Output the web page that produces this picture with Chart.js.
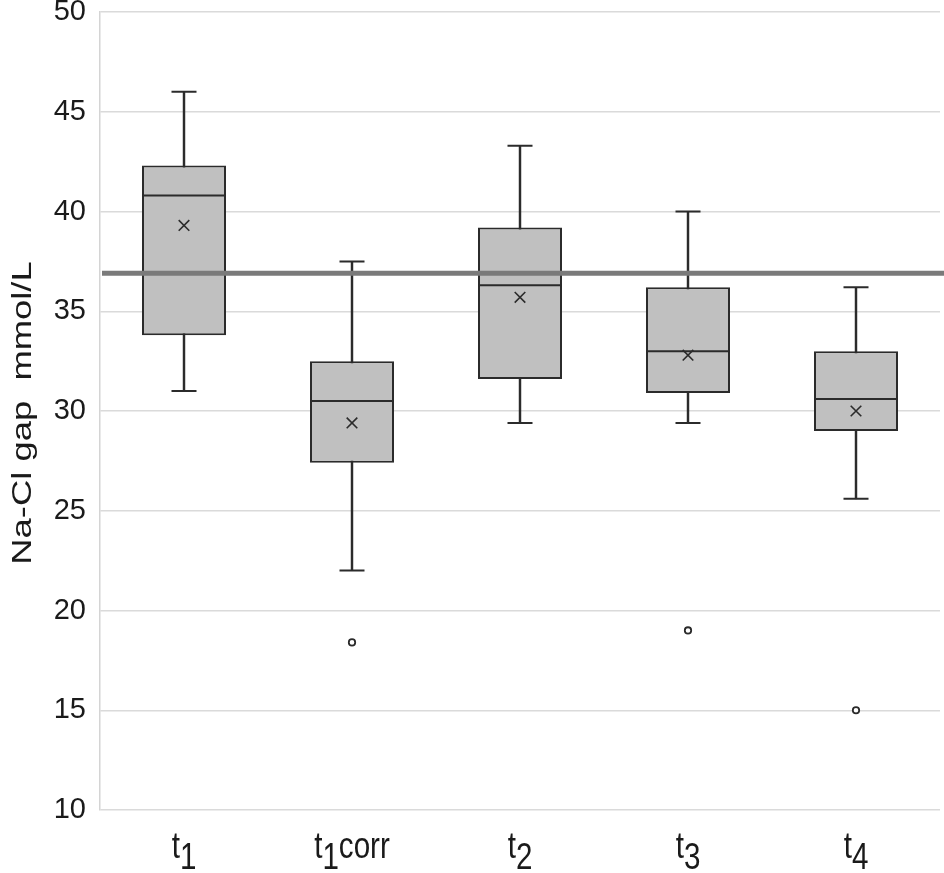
<!DOCTYPE html>
<html>
<head>
<meta charset="utf-8">
<title>Na-Cl gap</title>
<script src="https://cdn.jsdelivr.net/npm/chart.js@4.4.1/dist/chart.umd.min.js"></script>
<style>
  html, body { margin: 0; padding: 0; background: #fff; }
  #wrap { width: 944px; height: 873px; }
</style>
</head>
<body>
<div id="wrap"><canvas id="boxChart"></canvas></div>
<script>
// Box plot data (mmol/L)
const labels = ['t1', 't1corr', 't2', 't3', 't4'];
const whiskerLow = [31.0, 22.0, 29.4, 29.4, 25.6];
const q1 = [33.8, 27.4, 31.6, 30.9, 29.0];
const median = [40.8, 30.5, 36.3, 33.0, 30.6];
const q3 = [42.3, 32.5, 39.2, 36.2, 33.0];
const whiskerHigh = [46.0, 37.5, 43.3, 40.0, 36.2];
const mean = [39.3, 29.4, 35.7, 32.8, 30.0];
const outliers = [null, 18.4, null, 19.0, 15.0];
const refValue = 36.9;
const yTitle = 'Na-Cl gap  mmol/L';

const ink = '#2b2b2b';

// horizontal reference line across the plot
const refLinePlugin = {
    id: 'refLine',
    afterDatasetsDraw(chart) {
        const { ctx, chartArea, scales } = chart;
        const y = scales.y.getPixelForValue(refValue);
        ctx.save();
        ctx.strokeStyle = '#7a7a7a';
        ctx.lineWidth = 5;
        ctx.beginPath();
        ctx.moveTo(chartArea.left + 2, y);
        ctx.lineTo(chartArea.right + 4, y);
        ctx.stroke();
        ctx.restore();
    }
};

// x labels with subscript digit, y title stretched like the original
const labelPlugin = {
    id: 'subLabels',
    afterDraw(chart) {
        const { ctx, scales } = chart;
        ctx.save();
        ctx.fillStyle = '#1a1a1a';
        ctx.font = '37px "Liberation Sans", Arial, sans-serif';
        ctx.textBaseline = 'alphabetic';
        ctx.textAlign = 'left';
        const sx = 0.8;
        labels.forEach((lab, i) => {
            const m = lab.match(/^(t)(\d)(.*)$/);
            const parts = [m[1], m[2], m[3]];
            const w = parts.map(p => ctx.measureText(p).width * sx);
            const total = w[0] + w[1] + w[2];
            const cx = scales.x.getPixelForValue(i);
            let x = cx - total / 2;
            const base = 858;
            [[parts[0], base], [parts[1], base + 11], [parts[2], base]].forEach(([txt, by], k) => {
                ctx.save();
                ctx.translate(x, by);
                ctx.scale(sx, 1);
                ctx.fillText(txt, 0, 0);
                ctx.restore();
                x += w[k];
            });
        });
        ctx.restore();

        // y axis title
        const area = chart.chartArea;
        ctx.save();
        ctx.fillStyle = '#1a1a1a';
        ctx.font = '28px "Liberation Sans", Arial, sans-serif';
        ctx.textAlign = 'center';
        ctx.textBaseline = 'alphabetic';
        ctx.translate(31, (area.top + area.bottom) / 2 + 2);
        ctx.rotate(-Math.PI / 2);
        ctx.scale(1.3, 1);
        ctx.fillText(yTitle, 0, 0);
        ctx.restore();
    }
};

const boxRanges = labels.map((_, i) => [q1[i], q3[i]]);
const stemRanges = labels.map((_, i) => [whiskerLow[i], whiskerHigh[i]]);

new Chart(document.getElementById('boxChart').getContext('2d'), {
    type: 'bar',
    data: {
        labels: labels,
        datasets: [
            {
                // whisker stems
                data: stemRanges,
                backgroundColor: ink,
                barThickness: 1.8,
                grouped: false,
                order: 5
            },
            {
                // boxes (q1 - q3)
                data: boxRanges,
                backgroundColor: '#c0c0c0',
                borderColor: ink,
                borderWidth: 2,
                borderSkipped: false,
                categoryPercentage: 1,
                barPercentage: 0.5,
                grouped: false,
                order: 4
            },
            {
                type: 'line',
                data: median,
                showLine: false,
                pointStyle: 'line',
                pointRadius: 41.5,
                pointBorderColor: ink,
                pointBorderWidth: 2,
                order: 1
            },
            {
                type: 'line',
                data: whiskerHigh,
                showLine: false,
                pointStyle: 'line',
                pointRadius: 12.5,
                pointBorderColor: ink,
                pointBorderWidth: 2,
                order: 1
            },
            {
                type: 'line',
                data: whiskerLow,
                showLine: false,
                pointStyle: 'line',
                pointRadius: 12.5,
                pointBorderColor: ink,
                pointBorderWidth: 2,
                order: 1
            },
            {
                type: 'line',
                data: mean,
                showLine: false,
                pointStyle: 'crossRot',
                pointRadius: 7.5,
                pointBorderColor: ink,
                pointBorderWidth: 1.6,
                order: 1
            },
            {
                type: 'line',
                data: outliers,
                showLine: false,
                pointStyle: 'circle',
                pointRadius: 3.2,
                pointBackgroundColor: '#fff',
                pointBorderColor: ink,
                pointBorderWidth: 1.8,
                order: 1
            }
        ]
    },
    options: {
        responsive: true,
        maintainAspectRatio: false,
        animation: false,
        layout: {
            autoPadding: false,
            padding: { top: 0, right: 4, left: 0, bottom: 0 }
        },
        plugins: {
            legend: { display: false },
            tooltip: { enabled: false }
        },
        scales: {
            x: {
                grid: { display: false },
                border: { display: false },
                ticks: { display: false },
                afterFit(scale) { scale.height = 63; }
            },
            y: {
                min: 10,
                max: 50,
                ticks: {
                    stepSize: 5,
                    color: '#1a1a1a',
                    padding: 14,
                    font: { family: '"Liberation Sans", Arial, sans-serif', size: 29 }
                },
                grid: { color: '#dadada', lineWidth: 1.5, drawTicks: false },
                border: { display: true, color: '#d4d4d4', width: 1.5 },
                afterFit(scale) {
                    scale.width = 100;
                    scale.paddingTop = 12;
                    scale.paddingBottom = 0;
                }
            }
        }
    },
    plugins: [refLinePlugin, labelPlugin]
});
</script>
</body>
</html>
